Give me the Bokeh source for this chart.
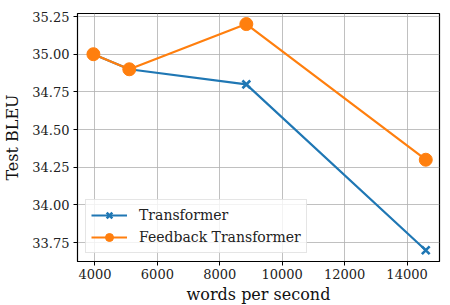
from bokeh.plotting import figure
from bokeh.models import FixedTicker, Range1d, Legend, LegendItem, CustomJSTickFormatter
from bokeh.embed import file_html
from bokeh.resources import INLINE

x_tr = [3950, 5100, 8850, 14600]
y_tr = [35.0, 34.9, 34.8, 33.7]
x_fb = [3950, 5100, 8850, 14600]
y_fb = [35.0, 34.9, 35.2, 34.3]
x_ticks = [4000, 6000, 8000, 10000, 12000, 14000]
y_ticks = [33.75, 34.0, 34.25, 34.5, 34.75, 35.0, 35.25]

FONT = "DejaVu Serif"
BLUE = "#1f77b4"
ORANGE = "#ff7f0e"

p = figure(output_backend="svg", toolbar_location=None,
           frame_width=362, frame_height=248,
           min_border_left=70, min_border_right=2, min_border_top=13, min_border_bottom=0,
           x_range=Range1d(3440, 15040), y_range=Range1d(33.625, 35.27))

p.xaxis.ticker = FixedTicker(ticks=x_ticks)
p.yaxis.ticker = FixedTicker(ticks=y_ticks)
p.yaxis.formatter = CustomJSTickFormatter(code="return tick.toFixed(2);")
p.xaxis.formatter = CustomJSTickFormatter(code="return tick.toFixed(0);")
for ax in (p.xaxis[0], p.yaxis[0]):
    ax.major_label_text_font = FONT
    ax.major_label_text_font_size = "13px"
    ax.major_label_text_color = "#222222"
    ax.axis_label_text_font = FONT
    ax.axis_label_text_font_size = "16px"
    ax.axis_label_text_font_style = "normal"
    ax.axis_label_text_color = "#111111"
    ax.minor_tick_line_color = None
    ax.major_tick_out = 4
    ax.major_tick_in = 0
    ax.axis_line_color = "black"
    ax.major_tick_line_color = "black"
p.xaxis.axis_label = "words per second"
p.yaxis.axis_label = "Test BLEU"
p.xaxis.axis_label_standoff = 3
p.yaxis.axis_label_standoff = 7
p.xaxis.major_label_standoff = 3
p.yaxis.major_label_standoff = 4

p.outline_line_color = "black"
p.outline_line_width = 1.2
p.outline_line_alpha = 1
p.xgrid.grid_line_color = "#b0b0b0"
p.ygrid.grid_line_color = "#b0b0b0"
p.xgrid.grid_line_alpha = 0.8
p.ygrid.grid_line_alpha = 0.8
p.xgrid.ticker = FixedTicker(ticks=x_ticks)
p.ygrid.ticker = FixedTicker(ticks=y_ticks)

l1 = p.line(x_tr, y_tr, line_color=BLUE, line_width=2.2)
m1 = p.scatter(x_tr, y_tr, marker="x", size=11, line_color=BLUE, line_width=2.6)
l2 = p.line(x_fb, y_fb, line_color=ORANGE, line_width=2.2)
m2 = p.scatter(x_fb, y_fb, marker="circle", size=13, fill_color=ORANGE, line_color=ORANGE)

legend = Legend(items=[LegendItem(label="Transformer", renderers=[l1, m1]),
                       LegendItem(label="Feedback Transformer", renderers=[l2, m2])],
                location="bottom_left")
legend.label_text_font = FONT
legend.label_text_font_size = "14px"
legend.label_text_color = "#222222"
legend.glyph_width = 36
legend.glyph_height = 20
legend.label_standoff = 12
legend.spacing = 2
legend.padding = 5
legend.margin = 8
legend.border_line_color = "#cccccc"
legend.border_line_width = 1
legend.background_fill_alpha = 0.8
p.add_layout(legend)

open("out.html", "w").write(file_html(p, INLINE))
